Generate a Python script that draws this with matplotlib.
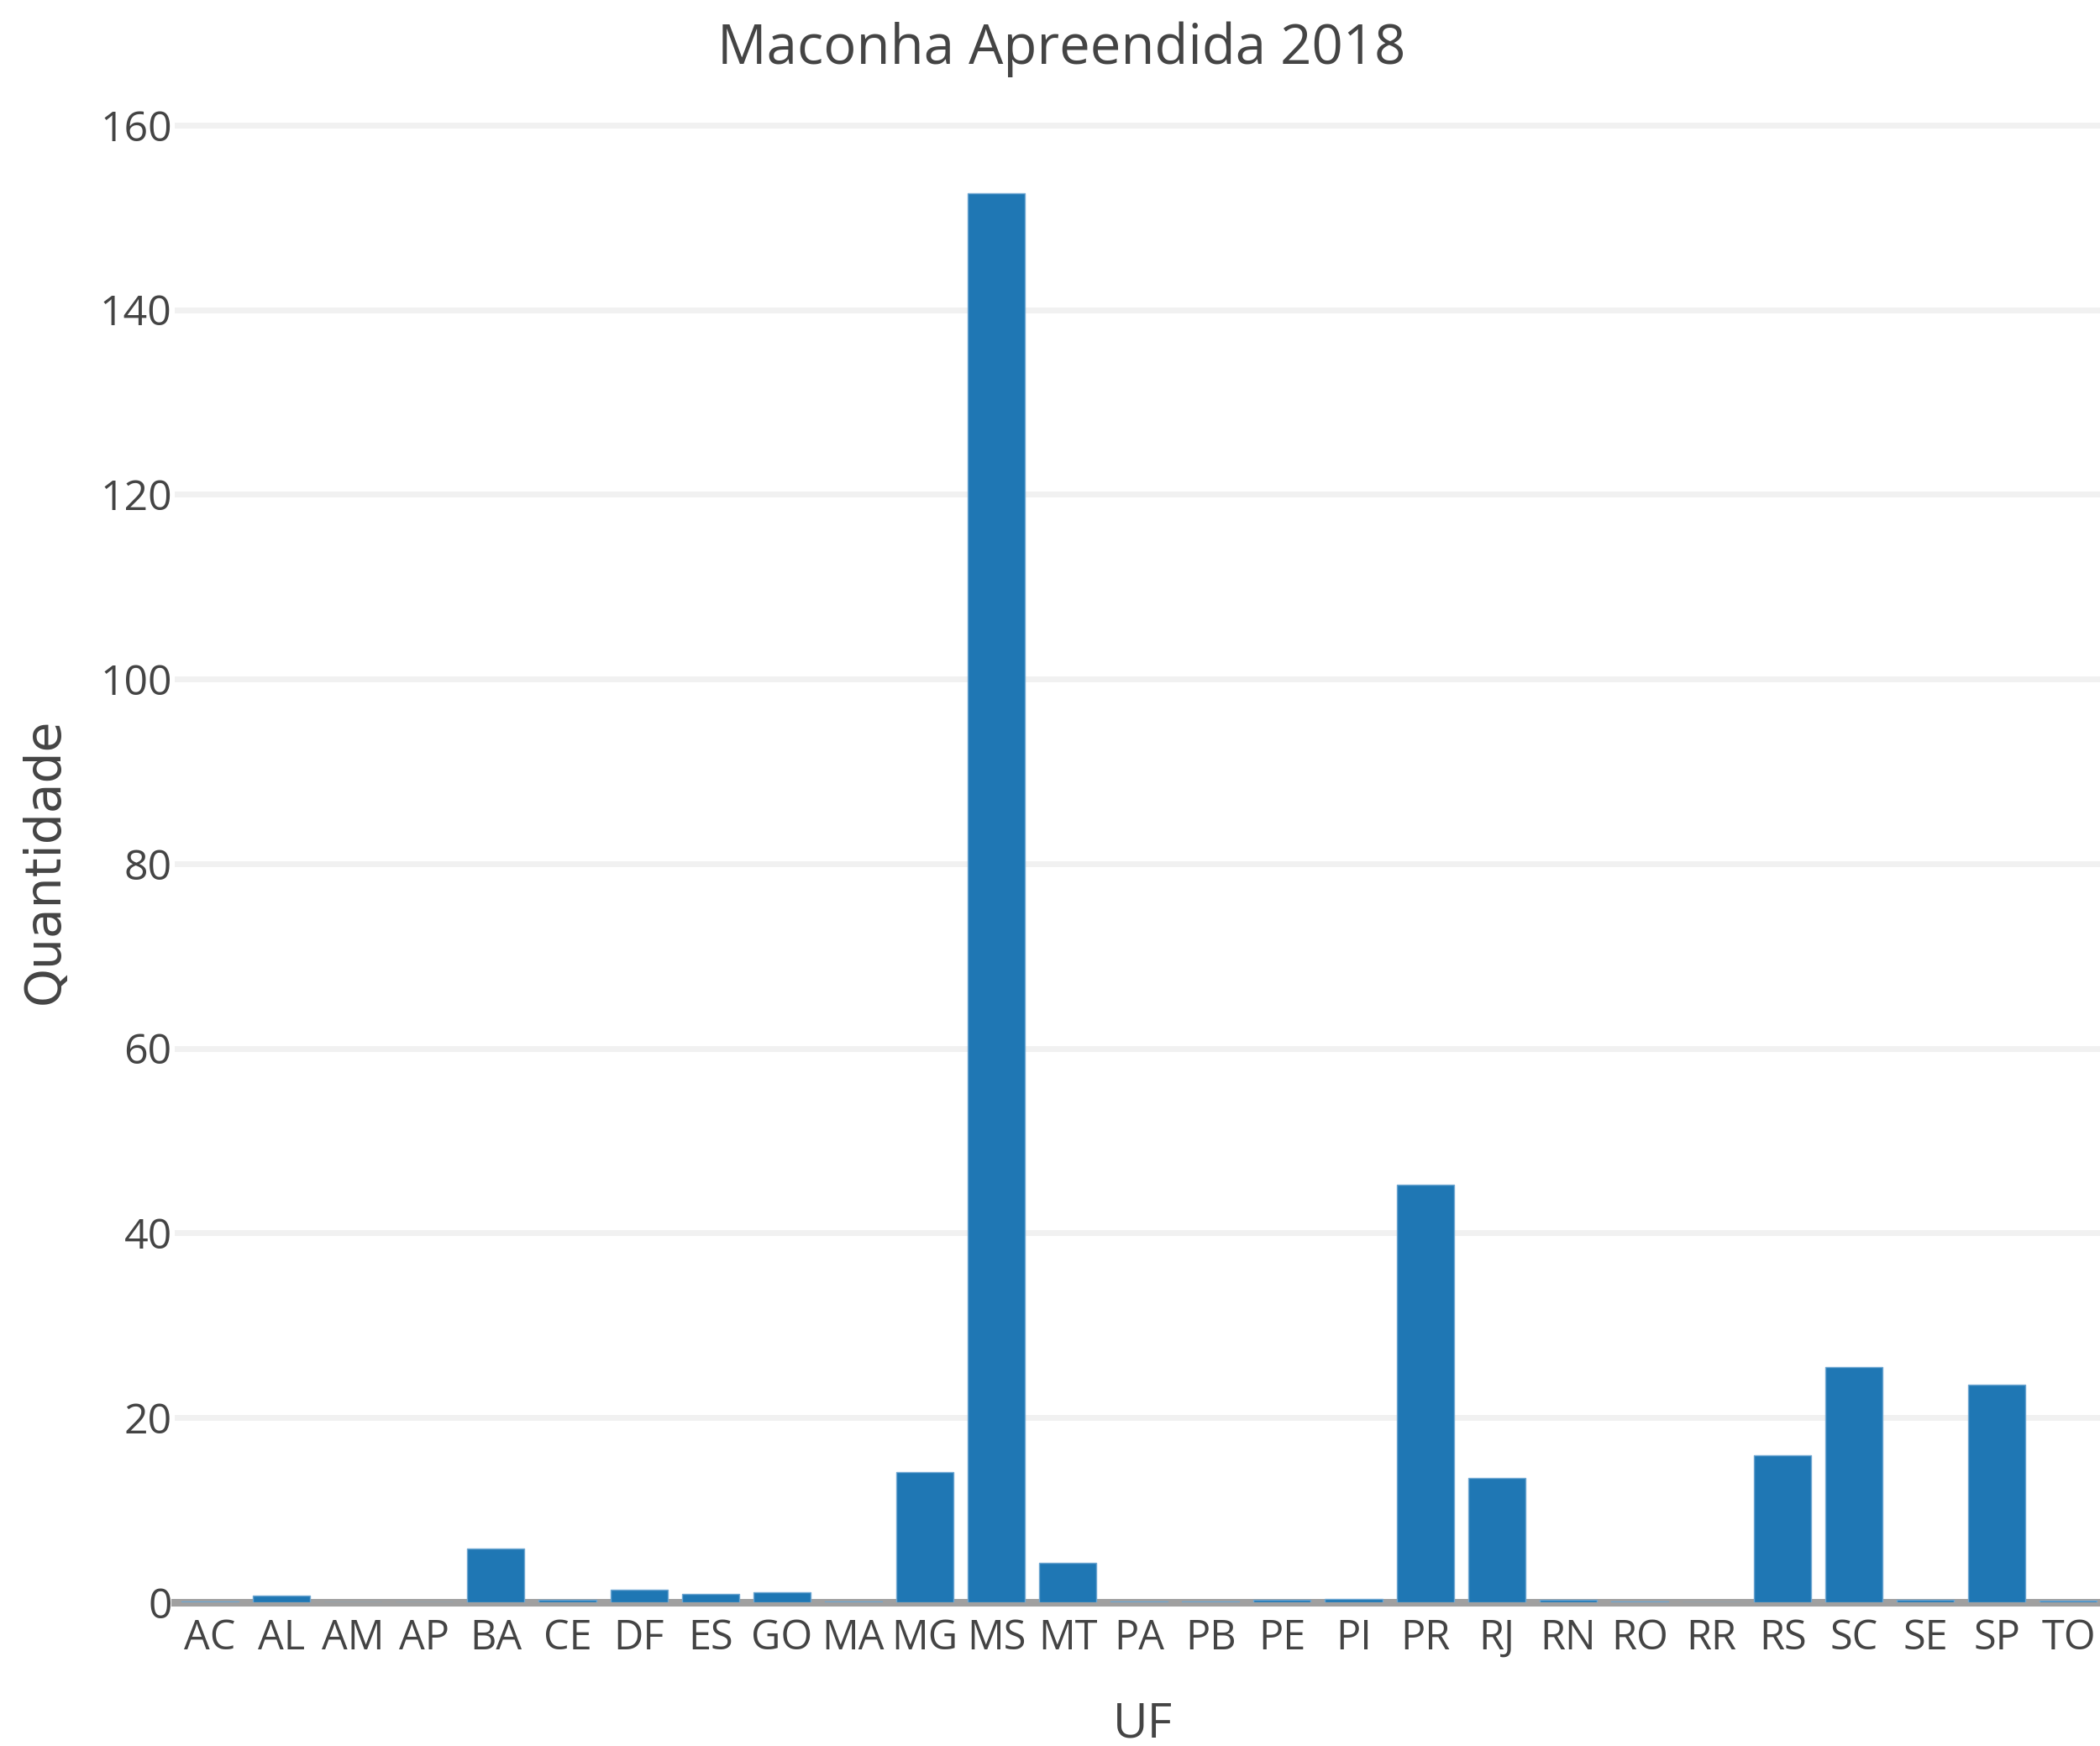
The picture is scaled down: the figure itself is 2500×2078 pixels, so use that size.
import matplotlib.pyplot as plt

# UF categories and seized quantity
ufs = ['AC', 'AL', 'AM', 'AP', 'BA', 'CE', 'DF', 'ES', 'GO', 'MA', 'MG', 'MS', 'MT', 'PA',
       'PB', 'PE', 'PI', 'PR', 'RJ', 'RN', 'RO', 'RR', 'RS', 'SC', 'SE', 'SP', 'TO']
quantidade = [0.1, 0.7, 0, 0, 5.8, 0.3, 1.4, 0.9, 1.1, 0.1, 14.1, 152.6, 4.3, 0.1,
              0.1, 0.3, 0.4, 45.2, 13.5, 0.3, 0.1, 0, 15.9, 25.5, 0.3, 23.6, 0.2]
yticks = [0, 20, 40, 60, 80, 100, 120, 140, 160]

text_color = '#444444'
font = ['Open Sans', 'DejaVu Sans']

fig = plt.figure(figsize=(25, 20.78), dpi=100)
ax = fig.add_axes([0.083, 0.0823, 0.919, 0.8503])

ax.bar(range(len(ufs)), quantidade, width=0.8, color='#1f77b4',
       edgecolor='#6fa7d2', linewidth=1.0, zorder=3)

ax.axhline(0, color='#a0a0a0', linewidth=6.5, zorder=2, clip_on=False)

ax.set_xlim(-0.5, len(ufs) - 0.5)
ax.set_ylim(0, 160.8)
ax.set_xticks(range(len(ufs)))
ax.set_xticklabels(ufs, family=font, fontsize=35, color=text_color)
ax.set_yticks(yticks)
ax.set_yticklabels([str(v) for v in yticks], family=font, fontsize=36, color=text_color)
ax.tick_params(axis='both', length=0)
ax.tick_params(axis='x', pad=13)
ax.tick_params(axis='y', pad=2)

ax.grid(axis='y', color='#f1f1f1', linewidth=5, zorder=0)
ax.set_axisbelow(True)
for s in ax.spines.values():
    s.set_visible(False)

fig.text(0.5056, 1 - 59 / 2078, 'Maconha Apreendida 2018', ha='center', va='center',
         family=font, fontsize=47, color=text_color)
fig.text(1360 / 2500, 25 / 2078, 'UF', ha='center', va='center',
         family=font, fontsize=41, color=text_color)
fig.text(53 / 2500, 1 - 1025 / 2078, 'Quantidade', ha='center', va='center', rotation=90,
         family='DejaVu Sans', fontsize=42, color=text_color)

fig.savefig('out.png', dpi=100)
